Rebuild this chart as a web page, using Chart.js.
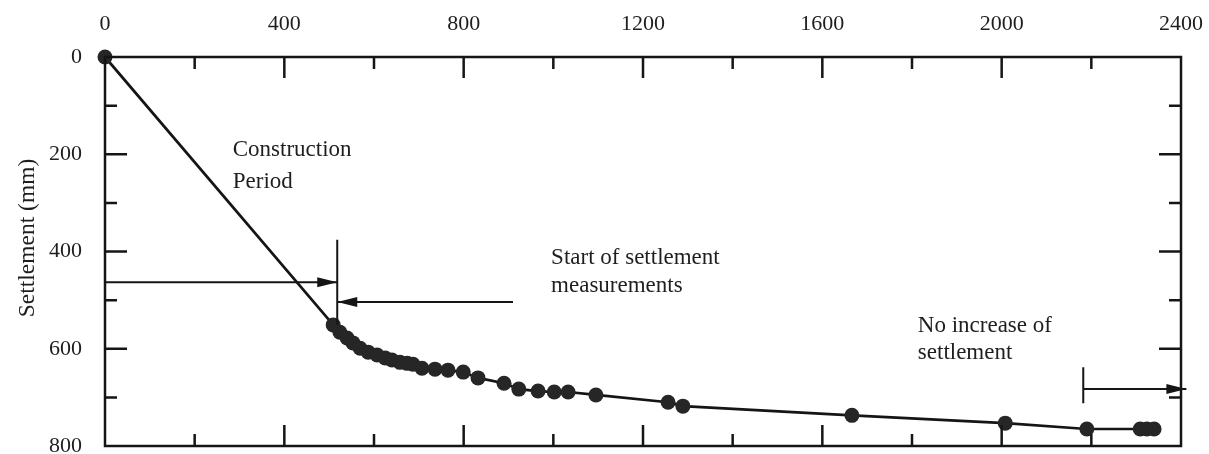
<!DOCTYPE html>
<html>
<head>
<meta charset="utf-8">
<script src="https://cdn.jsdelivr.net/npm/chart.js@4"></script>
<style>
  html, body { margin: 0; padding: 0; background: #fff; }
  #wrap { width: 1209px; height: 454px; }
</style>
</head>
<body>
<div id="wrap"><canvas id="settlementChart" width="1209" height="454"></canvas></div>
<script>
// time (days) vs settlement (mm)
const timeDays = [0, 509, 524, 540, 553, 569, 587, 607, 625, 640, 658, 674, 687, 707, 736, 765, 799, 832, 890, 923, 966, 1002, 1033, 1095, 1256, 1289, 1666, 2008, 2190, 2309, 2324, 2340];
const settlementMm = [0, 551, 566, 578, 588, 599, 607, 613, 619, 623, 628, 630, 632, 640, 642, 644, 648, 660, 671, 683, 687, 689, 689, 695, 710, 718, 737, 753, 765, 765, 765, 765];

const xTickLabels = [0, 400, 800, 1200, 1600, 2000, 2400];
const yTickLabels = [0, 200, 400, 600, 800];

// annotation text lines: [x, y, text] in data units
const noteLines = [
    [285, 191, 'Construction'],
    [285, 257, 'Period'],
    [995, 414, 'Start of settlement'],
    [995, 471, 'measurements'],
    [1813, 553, 'No increase of'],
    [1813, 609, 'settlement'],
];

const serif = '"Liberation Serif", "Times New Roman", serif';
const ink = '#151515';

// frame, inward ticks, arrows, text
const decorPlugin = {
    id: 'decor',
    afterDraw(chart) {
        const ctx = chart.ctx;
        const xs = chart.scales.x;
        const ys = chart.scales.y;
        const a = chart.chartArea;
        const px = (v) => xs.getPixelForValue(v);
        const py = (v) => ys.getPixelForValue(v);

        ctx.save();
        ctx.strokeStyle = ink;
        ctx.fillStyle = ink;
        ctx.lineWidth = 2.5;
        ctx.strokeRect(a.left, a.top, a.right - a.left, a.bottom - a.top);

        // inward ticks
        ctx.lineWidth = 2.5;
        ctx.beginPath();
        for (let v = 200; v < 2400; v += 200) {
            const len = v % 400 === 0 ? 21 : 12;
            const x = px(v);
            ctx.moveTo(x, a.top); ctx.lineTo(x, a.top + len);
            ctx.moveTo(x, a.bottom); ctx.lineTo(x, a.bottom - len);
        }
        for (let v = 100; v < 800; v += 100) {
            const len = v % 200 === 0 ? 22 : 12;
            const y = py(v);
            ctx.moveTo(a.left, y); ctx.lineTo(a.left + len, y);
            ctx.moveTo(a.right, y); ctx.lineTo(a.right - len, y);
        }
        ctx.stroke();

        // arrows
        const arrowHead = (x, y, dir) => {
            ctx.beginPath();
            ctx.moveTo(x, y);
            ctx.lineTo(x - dir * 20, y - 5);
            ctx.lineTo(x - dir * 20, y + 5);
            ctx.closePath();
            ctx.fill();
        };
        ctx.lineWidth = 2;
        ctx.beginPath();
        ctx.moveTo(px(0), py(463)); ctx.lineTo(px(518), py(463));
        ctx.moveTo(px(518), py(376)); ctx.lineTo(px(518), py(551));
        ctx.moveTo(px(910), py(504)); ctx.lineTo(px(518), py(504));
        ctx.moveTo(px(2182), py(638)); ctx.lineTo(px(2182), py(712));
        ctx.moveTo(px(2182), py(683)); ctx.lineTo(px(2412), py(683));
        ctx.stroke();
        arrowHead(px(518), py(463), 1);
        arrowHead(px(518), py(504), -1);
        arrowHead(px(2412), py(683), 1);

        // notes
        ctx.font = '23px ' + serif;
        ctx.textAlign = 'left';
        ctx.textBaseline = 'middle';
        ctx.fillStyle = '#1e1e1e';
        noteLines.forEach(([x, y, t]) => ctx.fillText(t, px(x), py(y)));

        // y axis title
        ctx.font = '23.5px ' + serif;
        ctx.translate(28, 238);
        ctx.rotate(-Math.PI / 2);
        ctx.textAlign = 'center';
        ctx.fillText('Settlement (mm)', 0, 0);
        ctx.restore();
    },
};

const points = timeDays.map((t, i) => ({ x: t, y: settlementMm[i] }));

new Chart(document.getElementById('settlementChart'), {
    type: 'scatter',
    data: {
        datasets: [
            {
                data: points,
                showLine: true,
                borderColor: ink,
                borderWidth: 2.7,
                backgroundColor: '#262626',
                pointBackgroundColor: '#262626',
                pointBorderColor: '#262626',
                pointBorderWidth: 0,
                pointRadius: 7.5,
                tension: 0,
                clip: false,
            },
        ],
    },
    options: {
        responsive: false,
        animation: false,
        events: [],
        layout: { padding: { left: 0, top: 0, right: 28, bottom: 8 } },
        plugins: {
            legend: { display: false },
            tooltip: { enabled: false },
        },
        scales: {
            x: {
                type: 'linear',
                position: 'top',
                min: 0,
                max: 2400,
                afterBuildTicks: (s) => { s.ticks = xTickLabels.map((v) => ({ value: v })); },
                ticks: {
                    font: { family: serif, size: 22 },
                    color: '#1e1e1e',
                    padding: 20,
                    maxRotation: 0,
                    callback: (v) => String(v),
                },
                grid: { display: false, drawTicks: false },
                border: { display: false },
                afterFit: (s) => { s.height = 57; s.paddingLeft = 0; s.paddingRight = 0; },
            },
            y: {
                type: 'linear',
                position: 'left',
                reverse: true,
                min: 0,
                max: 800,
                afterBuildTicks: (s) => { s.ticks = yTickLabels.map((v) => ({ value: v })); },
                ticks: {
                    font: { family: serif, size: 22 },
                    color: '#1e1e1e',
                    padding: 23,
                    callback: (v) => String(v),
                },
                grid: { display: false, drawTicks: false },
                border: { display: false },
                afterFit: (s) => { s.width = 105; s.paddingTop = 0; s.paddingBottom = 0; },
            },
        },
    },
    plugins: [decorPlugin],
});
</script>
</body>
</html>
